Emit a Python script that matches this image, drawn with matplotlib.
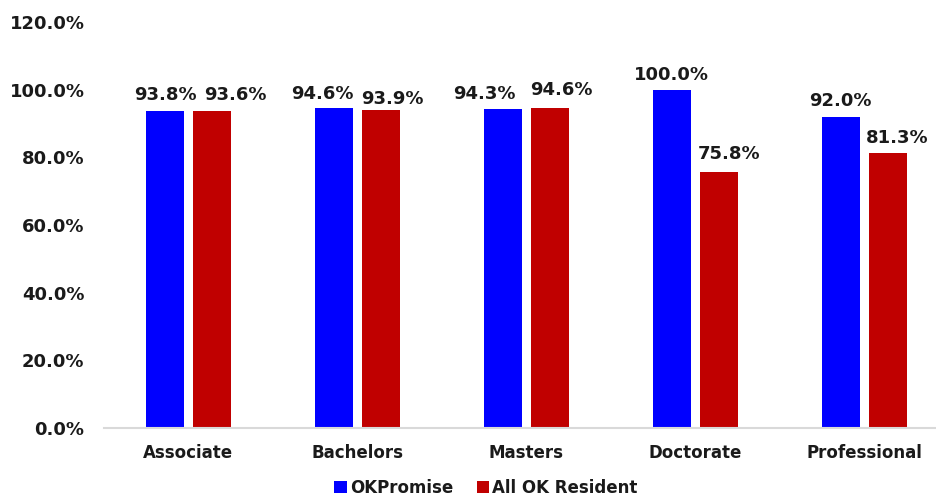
import matplotlib
matplotlib.use("Agg")
import matplotlib.pyplot as plt
import numpy as np

categories = ["Associate", "Bachelors", "Masters", "Doctorate", "Professional"]
okpromise = [93.8, 94.6, 94.3, 100.0, 92.0]
all_ok = [93.6, 93.9, 94.6, 75.8, 81.3]
series_names = ["OKPromise", "All OK Resident"]
colors = ["#0000FF", "#C00000"]
yticks = [0, 20, 40, 60, 80, 100, 120]

# label nudges (pixels) as placed in the reference
nudge_blue = [(0, 11), (-12, 9), (-18.5, 9.5), (0, 10), (0, 11)]
nudge_red = [(23, 11), (11.5, 6), (11.5, 13), (10, 13), (9.5, 10)]

plt.rcParams['font.family'] = ['DejaVu Sans']
plt.rcParams['font.weight'] = 'bold'

fig = plt.figure(figsize=(9.37, 4.98), dpi=100)
ax = fig.add_axes([104/937, 1-428/498, 1-104/937, (428-22)/498])

x = np.arange(len(categories))
w = 0.225
off = 0.139
b1 = ax.bar(x - off, okpromise, w, color=colors[0], label=series_names[0])
b2 = ax.bar(x + off, all_ok, w, color=colors[1], label=series_names[1])

for bars, vals, nudges in ((b1, okpromise, nudge_blue), (b2, all_ok, nudge_red)):
    for r, v, (dx, dy) in zip(bars, vals, nudges):
        ax.annotate(f"{v:.1f}%", (r.get_x() + r.get_width()/2, v),
                    xytext=(dx, dy), textcoords="offset pixels",
                    ha="center", va="baseline", fontsize=13,
                    fontweight="bold", color="#1a1a1a")

ax.set_xlim(-0.5, 4.43)
ax.set_ylim(0, 120)
ax.set_yticks(yticks)
ax.set_yticklabels([f"{t:.1f}%" for t in yticks], fontsize=13, fontweight="bold", color="#1a1a1a")
ax.set_xticks(x)
ax.set_xticklabels(categories, fontsize=12, fontweight="bold", color="#1a1a1a")
ax.tick_params(axis="y", length=0, pad=14)
ax.tick_params(axis="x", length=0, pad=11.5)
for s in ["top", "right", "left"]:
    ax.spines[s].set_visible(False)
ax.spines["bottom"].set_color("#d9d9d9")
ax.spines["bottom"].set_linewidth(1.5)

leg = fig.legend(handles=[b1, b2], labels=series_names, loc="center",
                 bbox_to_anchor=(486/937, 1-488/498), ncol=2, frameon=False,
                 handlelength=0.75, handleheight=0.75, handletextpad=0.2,
                 columnspacing=1.4, borderpad=0.2, prop={"size": 12, "weight": "bold"})
for t in leg.get_texts():
    t.set_color("#1a1a1a")

fig.savefig("out.png", dpi=100)
